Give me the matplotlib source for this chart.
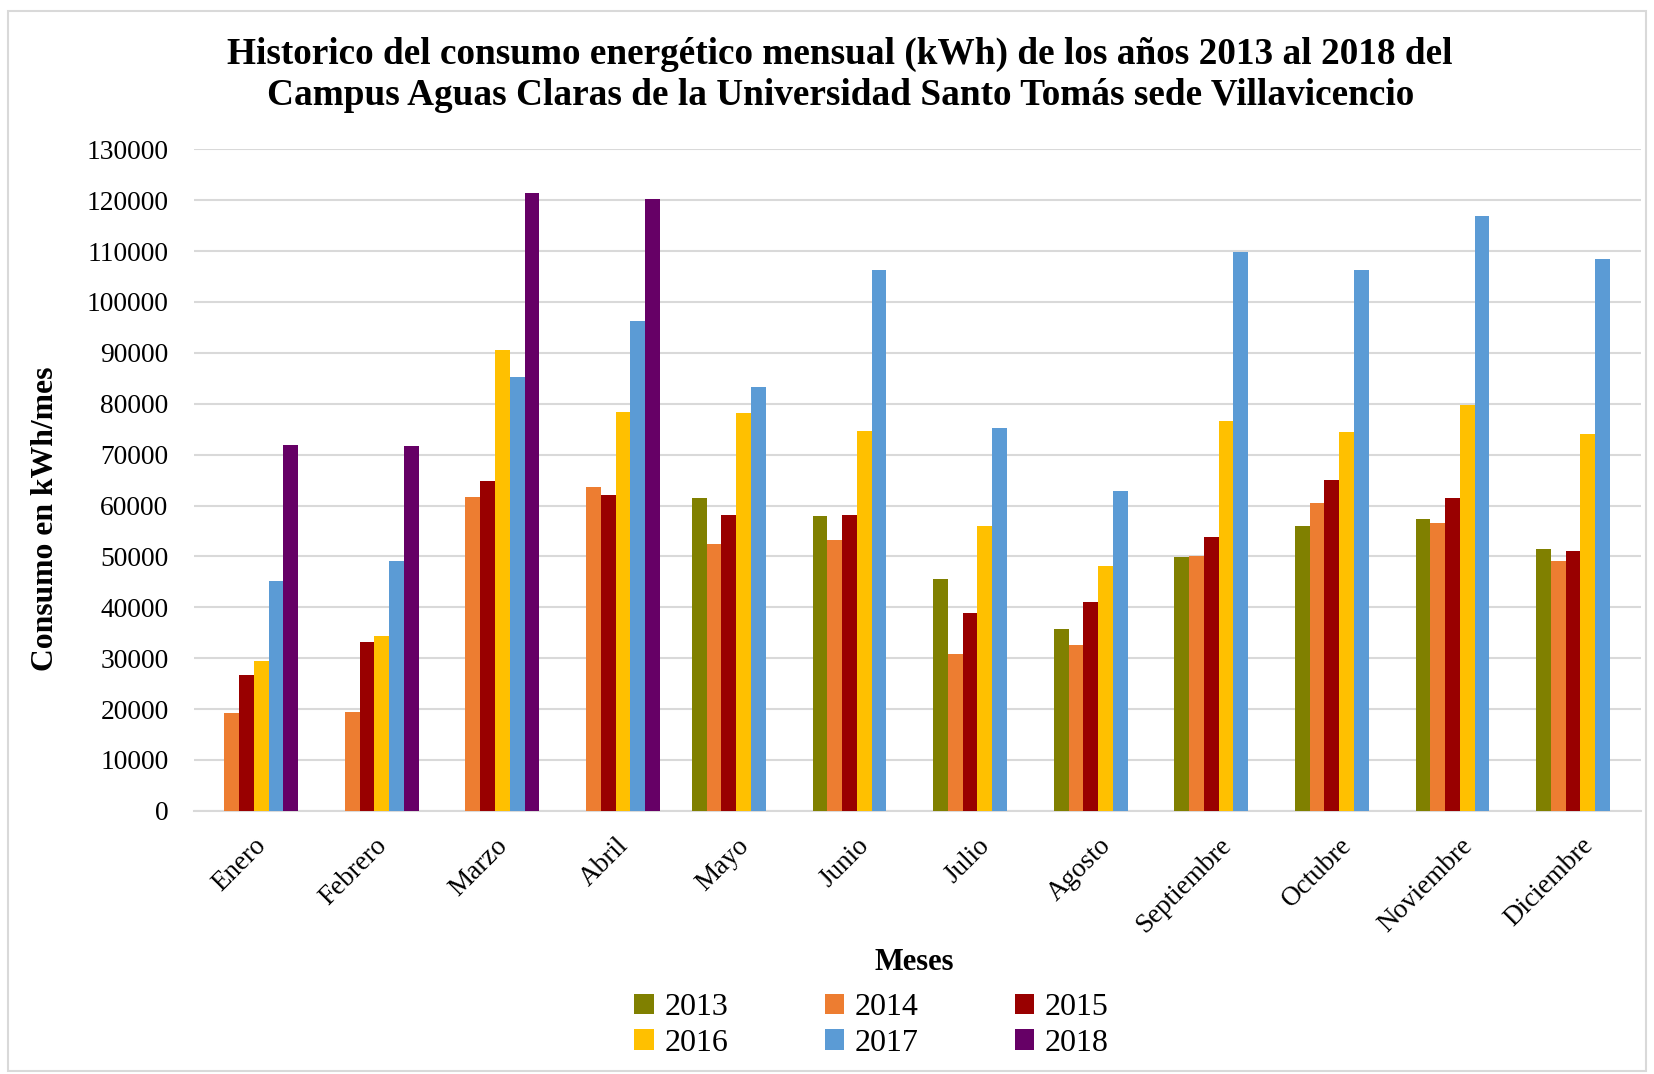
import numpy as np
import matplotlib.pyplot as plt
from matplotlib.patches import Rectangle

plt.rcParams['font.family'] = ['Liberation Serif', 'DejaVu Serif']

meses = ['Enero', 'Febrero', 'Marzo', 'Abril', 'Mayo', 'Junio', 'Julio',
         'Agosto', 'Septiembre', 'Octubre', 'Noviembre', 'Diciembre']
anios = ['2013', '2014', '2015', '2016', '2017', '2018']

c2013 = [0, 0, 0, 0, 61500, 57900, 45500, 35700, 49900, 55900, 57400, 51400]
c2014 = [19300, 19500, 61700, 63600, 52400, 53300, 30800, 32600, 50000, 60500, 56500, 49100]
c2015 = [26700, 33100, 64800, 62000, 58200, 58200, 38900, 41100, 53800, 65000, 61500, 51100]
c2016 = [29400, 34400, 90600, 78400, 78200, 74600, 56000, 48200, 76600, 74400, 79800, 74000]
c2017 = [45200, 49100, 85200, 96200, 83200, 106300, 75300, 62800, 109800, 106300, 116800, 108400]
c2018 = [71900, 71600, 121400, 120200, 0, 0, 0, 0, 0, 0, 0, 0]

series = [c2013, c2014, c2015, c2016, c2017, c2018]
colores = ['#808000', '#ED7D31', '#990000', '#FFC000', '#5B9BD5', '#660066']

fig = plt.figure(figsize=(16.54, 10.74), dpi=100)
ax = fig.add_axes([0.117, 0.245, 0.875, 0.616])

x = np.arange(len(meses))
w = 0.1225
handles = []
for i, (vals, col) in enumerate(zip(series, colores)):
    b = ax.bar(x + (i - 2.5) * w, vals, w, color=col, label=anios[i], zorder=3)
    handles.append(b)

ax.set_xlim(-0.5, len(meses) - 0.5)
ax.set_ylim(0, 130000)
ax.set_yticks(np.arange(0, 130001, 10000))
ax.set_yticklabels([str(v) for v in range(0, 130001, 10000)], fontsize=19.8)
ax.set_xticks(x)
ax.set_xticklabels(meses, rotation=45, ha='right', rotation_mode='anchor', fontsize=19.5)
ax.tick_params(axis='y', length=0, pad=18)
ax.tick_params(axis='x', length=0, pad=16)
ax.grid(axis='y', color='#d9d9d9', linewidth=1.5, zorder=0)
for s in ['top', 'right', 'left']:
    ax.spines[s].set_visible(False)
ax.spines['bottom'].set_color('#d9d9d9')
ax.spines['bottom'].set_linewidth(1.5)

ax.set_ylabel('Consumo en kWh/mes', fontsize=22.8, fontweight='bold')
ax.yaxis.set_label_coords(-0.092, 0.442)
fig.text(0.553, 0.104, 'Meses', fontsize=22, fontweight='bold', ha='center', va='center')

fig.suptitle('Historico del consumo energético mensual (kWh) de los años 2013 al 2018 del\n'
             'Campus Aguas Claras de la Universidad Santo Tomás sede Villavicencio',
             x=0.508, y=0.966, va='top', fontsize=26.8, fontweight='bold', linespacing=1.25)

orden = [0, 3, 1, 4, 2, 5]
fig.legend([handles[i] for i in orden], [anios[i] for i in orden], ncol=3,
           loc='center', bbox_to_anchor=(0.527, 0.045), frameon=False, fontsize=23,
           handlelength=0.6, handleheight=0.6, handletextpad=0.35, columnspacing=3.0,
           labelspacing=0.2, borderpad=0)

fig.patches.append(Rectangle((0.005, 0.003), 0.99, 0.987, transform=fig.transFigure,
                             fill=False, edgecolor='#d9d9d9', linewidth=1.5))

fig.savefig('out.png', dpi=100)
